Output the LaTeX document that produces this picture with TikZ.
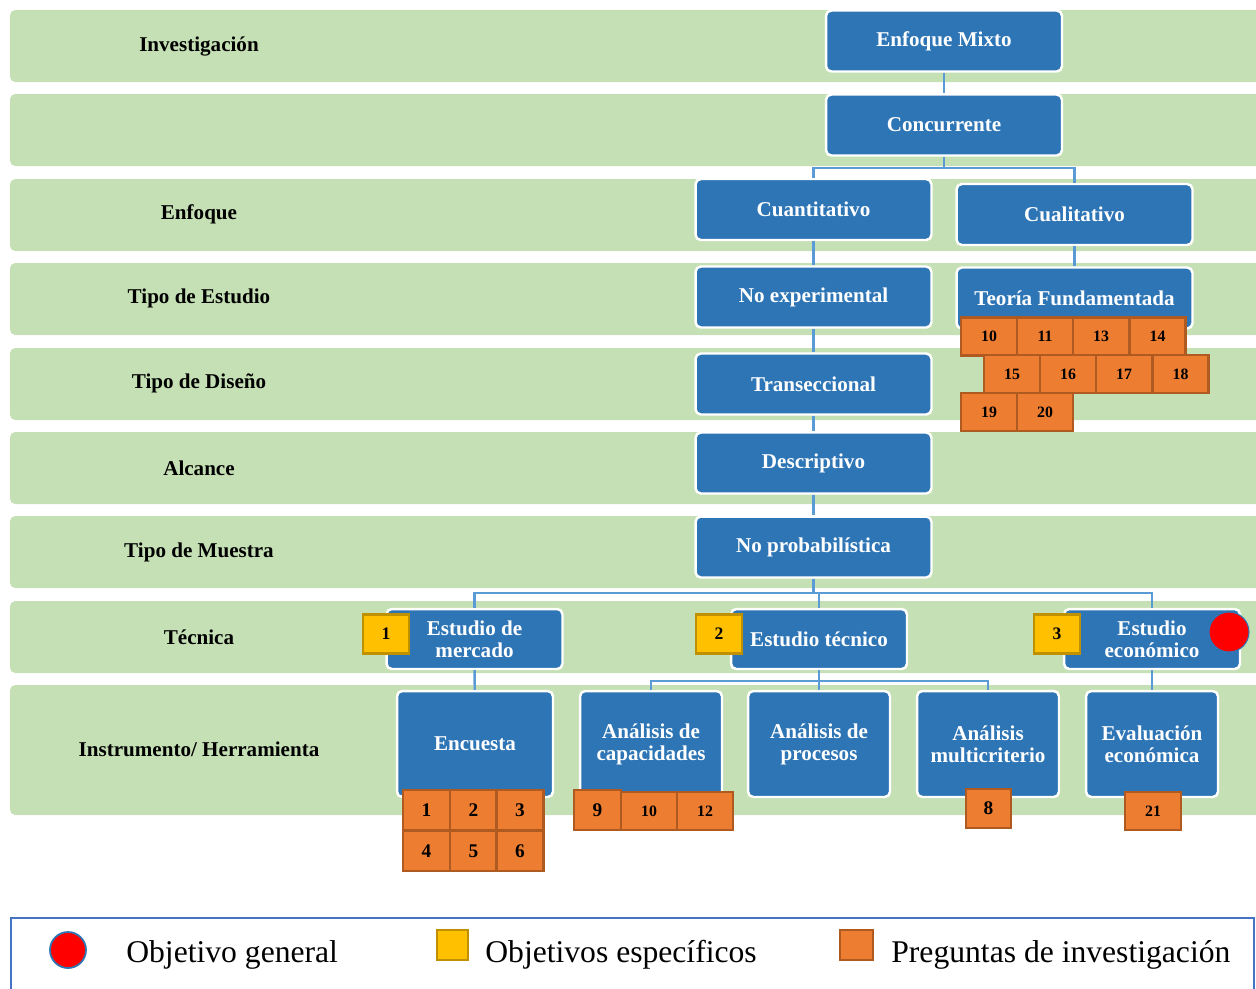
\documentclass[tikz,border=0pt]{standalone}
\usepackage{fontspec}
\setmainfont{Liberation Serif}
\usepackage{xcolor}
\usepackage{tikz}

\definecolor{bandgreen}{HTML}{C5E0B4}
\definecolor{boxblue}{HTML}{2E75B6}
\definecolor{lineblue}{HTML}{5B9BD5}
\definecolor{objyellow}{HTML}{FFC000}
\definecolor{objborder}{HTML}{BF9000}
\definecolor{qorange}{HTML}{ED7D31}
\definecolor{qborder}{HTML}{AE5A21}
\definecolor{frameblue}{HTML}{4472C4}

\begin{document}
\begin{tikzpicture}[x=0.02cm,y=-0.02cm,
  band/.style={fill=bandgreen,rounded corners=3pt},
  rowlabel/.style={font=\bfseries\fontsize{12}{14}\selectfont},
  bluebox/.style={rectangle,rounded corners=3pt,fill=boxblue,draw=white,line width=1.4pt,
    text=white,align=center,inner sep=1pt,font=\bfseries\fontsize{12}{12.5}\selectfont},
  widebox/.style={bluebox,minimum width=4.72cm,minimum height=1.22cm},
  midbox/.style={bluebox,minimum width=3.52cm,minimum height=1.2cm},
  tallbox/.style={bluebox,minimum width=2.84cm,minimum height=2.12cm},
  link/.style={draw=lineblue,line width=1.4pt},
  objbox/.style={rectangle,fill=objyellow,draw=objborder,line width=1.2pt,inner sep=0pt,
    minimum width=0.92cm,minimum height=0.78cm,font=\bfseries\fontsize{10}{10}\selectfont},
  qbox/.style={rectangle,fill=qorange,draw=qborder,line width=1.2pt,inner sep=0pt,
    minimum width=1.12cm,minimum height=0.76cm,font=\bfseries\fontsize{9}{9}\selectfont},
  qbig/.style={qbox,minimum width=0.94cm,minimum height=0.8cm,font=\bfseries\fontsize{11}{11}\selectfont},
  legendtext/.style={anchor=base west,inner sep=0pt,font=\fontsize{18}{20}\selectfont}]

\useasboundingbox (0,0) rectangle (1256,988);
\clip (0,0) rectangle (1256,988);

% franjas
\foreach \t/\b in {10/82,94/166,179/251,263/335,348/420,432/504,516/588,601/673,685/815}
  \fill[band] (10,\t) rectangle (1290,\b);

% etiquetas de fila
\node[rowlabel] (lInvestigacion) at (199,46)  {Investigación};
\node[rowlabel] (lEnfoque)       at (199,214) {Enfoque};
\node[rowlabel] (lEstudio)       at (199,298) {Tipo de Estudio};
\node[rowlabel] (lDiseno)        at (199,383) {Tipo de Diseño};
\node[rowlabel] (lAlcance)       at (199,468) {Alcance};
\node[rowlabel] (lMuestra)       at (199,552) {Tipo de Muestra};
\node[rowlabel] (lTecnica)       at (199,637) {Técnica};
\node[rowlabel] (lInstrumento)   at (199,749) {Instrumento/ Herramienta};

% conectores
\coordinate (j1) at (944,168);
\coordinate (j2) at (813.5,593);
\coordinate (j3) at (819,681);

% cajas
\node[widebox] (mixto)       at (944,41)    {Enfoque Mixto};
\node[widebox] (concurrente) at (944,125)   {Concurrente};
\node[widebox] (cuanti)      at (813.5,209.5) {Cuantitativo};
\node[widebox] (cuali)       at (1074.5,214.5) {Cualitativo};
\node[widebox] (noexp)       at (813.5,297) {No experimental};
\node[widebox] (teoria)      at (1074.5,298) {Teoría Fundamentada};
\node[widebox] (transec)     at (813.5,384) {Transeccional};
\node[widebox] (descrip)     at (813.5,463) {Descriptivo};
\node[widebox] (noprob)      at (813.5,547) {No probabilística};
\node[midbox]  (mercado)     at (474.5,639) {Estudio de\\mercado};
\node[midbox]  (tecnico)     at (819,639)   {Estudio técnico};
\node[midbox]  (economico)   at (1152,639)  {Estudio\\económico};
\node[tallbox,minimum width=3.12cm] (encuesta) at (475,744) {Encuesta};
\node[tallbox] (capac)       at (651,744)   {Análisis de\\capacidades};
\node[tallbox] (procesos)    at (819,744)   {Análisis de\\procesos};
\node[tallbox] (multicrit)   at (988,744)   {Análisis\\multicriterio};
\node[tallbox,minimum width=2.64cm] (evaluacion) at (1152,744) {Evaluación\\económica};

\draw[link] (mixto) -- (concurrente);
\draw[link] (concurrente.south) -- (j1) -| (cuanti.north);
\draw[link] (j1) -| (cuali.north);
\draw[link] (cuanti) -- (noexp);
\draw[link] (cuali) -- (teoria);
\draw[link] (noexp) -- (transec);
\draw[link] (transec) -- (descrip);
\draw[link] (descrip) -- (noprob);
\draw[link] (noprob.south) -- (j2);
\draw[link] (mercado.north) |- (j2) -| (economico.north);
\draw[link] (tecnico.north) -- (tecnico.north |- j2);
\draw[link] (mercado) -- (encuesta);
\draw[link] (tecnico.south) -- (j3);
\draw[link] (capac.north) |- (j3) -| (multicrit.north);
\draw[link] (j3) -- (procesos.north);
\draw[link] (economico) -- (evaluacion);

% objetivos especificos
\node[objbox] (obj1) at (386,634)  {1};
\node[objbox] (obj2) at (719,634)  {2};
\node[objbox] (obj3) at (1057,634) {3};

% objetivo general
\node[circle,fill=red,draw=boxblue,line width=0.6pt,minimum size=0.8cm,inner sep=0pt] (objgen) at (1229,632) {};

% preguntas
\foreach \n/\x/\y in {10/989/336.5,11/1045/336.5,13/1101/336.5,14/1157.5/336.5,
                      15/1012/374,16/1068/374,17/1124/374,18/1180.5/374,
                      19/989/412,20/1045/412}
  \node[qbox] (tq\n) at (\x,\y) {\n};
\foreach \n/\x/\y in {1/426.5/810,2/473.5/810,3/520/810,4/426.5/851,5/473.5/851,6/520/851}
  \node[qbig] (eq\n) at (\x,\y) {\n};
\node[qbig]  (cq9)  at (597.5,810) {9};
\node[qbox]  (cq10) at (649,811)   {10};
\node[qbox]  (cq12) at (705,811)   {12};
\node[qbig,minimum width=0.9cm,minimum height=0.78cm] (mq8) at (988.5,808.5) {8};
\node[qbox]  (vq21) at (1153,811)  {21};

% leyenda
\draw[frameblue,line width=1.2pt] (11,918) rectangle (1254,1000);
\node[circle,fill=red,draw=boxblue,line width=1pt,minimum size=0.72cm,inner sep=0pt] (legGen) at (68,950) {};
\node[legendtext] (legGenTxt) at (126,962) {Objetivo general};
\node[rectangle,fill=objyellow,draw=objborder,line width=1pt,minimum width=0.62cm,minimum height=0.6cm,inner sep=0pt] (legObj) at (452.5,945) {};
\node[legendtext] (legObjTxt) at (485,962) {Objetivos específicos};
\node[rectangle,fill=qorange,draw=qborder,line width=1pt,minimum width=0.66cm,minimum height=0.6cm,inner sep=0pt] (legPreg) at (856.5,945) {};
\node[legendtext] (legPregTxt) at (891,962) {Preguntas de investigación};
\end{tikzpicture}
\end{document}
